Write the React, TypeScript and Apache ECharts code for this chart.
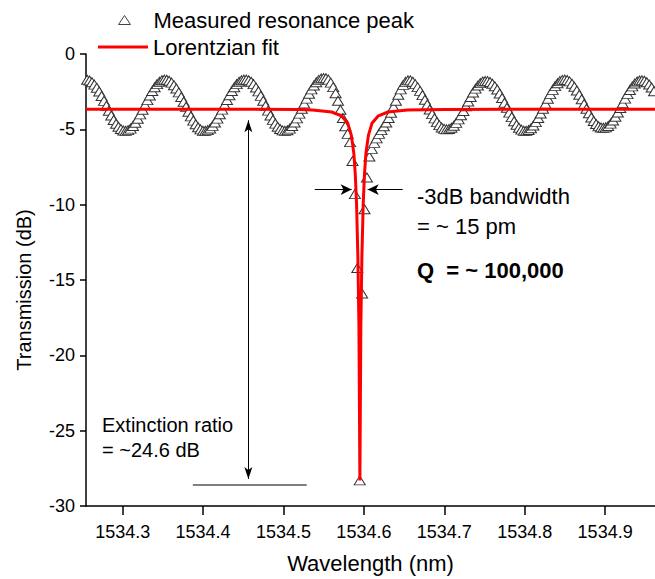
import React, { useEffect, useRef } from "react";
import * as echarts from "echarts";

// ---------- data ----------
const X_MIN = 1534.2544;
const X_MAX = 1534.962;
const X_TICKS = [1534.3, 1534.4, 1534.5, 1534.6, 1534.7, 1534.8, 1534.9];
const Y_MIN = -30;
const Y_MAX = 0;
const Y_STEP = 5;

// measured spectrum: uniform wavelength sampling of the swept source
const MEASURED_START_NM = 1534.2558;
const MEASURED_STEP_NM = 0.003;
const MEASURED_DB = [
  -1.71, -1.76, -1.87, -2.03, -2.24, -2.49, -2.79, -3.11, -3.44, -3.77, -4.08, -4.38, -4.63, -4.83, -4.98, -5.08, -5.1,
  -5.05, -4.95, -4.78, -4.56, -4.3, -4.01, -3.7, -3.38, -3.06, -2.75, -2.46, -2.21, -2.0, -1.84, -1.74, -1.7, -1.71,
  -1.78, -1.9, -2.07, -2.29, -2.55, -2.85, -3.17, -3.5, -3.83, -4.14, -4.42, -4.66, -4.86, -5.0, -5.09, -5.1,
  -5.05, -4.94, -4.77, -4.55, -4.29, -4.0, -3.69, -3.37, -3.05, -2.74, -2.46, -2.21, -2.0, -1.84, -1.74, -1.7, -1.7,
  -1.74, -1.84, -2.0, -2.22, -2.48, -2.78, -3.1, -3.43, -3.76, -4.08, -4.37, -4.62, -4.83, -4.98, -5.07, -5.1,
  -5.06, -4.95, -4.78, -4.55, -4.27, -3.96, -3.63, -3.29, -2.96, -2.64, -2.35, -2.09, -1.88, -1.72, -1.63, -1.6, -1.61,
  -1.7, -1.9, -2.2, -2.6, -3.1, -3.7, -4.25, -4.8, -5.3, -5.85, -7.1, -9.3, -14.2, -28.3,
  -15.9, -10.3, -8.2, -6.8, -6.3, -5.9, -5.6, -5.3, -5.05, -4.8, -4.55, -4.25, -3.9, -3.5, -3.1, -2.7, -2.35, -2.05, -1.85, -1.75,
  -1.75, -1.84, -2.0, -2.2, -2.45, -2.73, -3.04, -3.36, -3.68, -3.99, -4.27, -4.52, -4.72, -4.88, -4.97, -5.0,
  -4.98, -4.9, -4.76, -4.57, -4.34, -4.07, -3.78, -3.47, -3.15, -2.85, -2.56, -2.3, -2.09, -1.93, -1.83, -1.8, -1.8,
  -1.86, -1.97, -2.14, -2.36, -2.62, -2.92, -3.24, -3.57, -3.89, -4.19, -4.46, -4.7, -4.89, -5.02, -5.09, -5.1,
  -5.04, -4.93, -4.75, -4.52, -4.25, -3.95, -3.63, -3.3, -2.97, -2.66, -2.38, -2.13, -1.94, -1.8, -1.72, -1.7,
  -1.73, -1.82, -1.97, -2.17, -2.42, -2.7, -3.0, -3.32, -3.63, -3.93, -4.21, -4.45, -4.65, -4.8, -4.88, -4.9,
  -4.87, -4.78, -4.62, -4.41, -4.16, -3.88, -3.58, -3.27, -2.96, -2.66, -2.39, -2.15, -1.96, -1.83, -1.76, -1.75,
  -1.78, -1.87, -2.02, -2.22, -2.47,
];

// Lorentzian fit curve
const FIT_NM = [
  1534.2544, 1534.45, 1534.52, 1534.536, 1534.56, 1534.572, 1534.58, 1534.5844, 1534.5875, 1534.5893,
  1534.5909, 1534.5925, 1534.5938, 1534.5945, 1534.595, 1534.5955, 1534.5962, 1534.5975, 1534.5991,
  1534.6007, 1534.6025, 1534.6056, 1534.61, 1534.618, 1534.63, 1534.654, 1534.7, 1534.962,
];
const FIT_DB = [
  -3.66, -3.66, -3.68, -3.72, -3.85, -4.1, -4.6, -5.4, -6.6, -8.0,
  -10.0, -13.5, -18.0, -24.0, -28.3, -24.0, -18.0, -13.5, -10.0,
  -8.0, -6.6, -5.4, -4.6, -4.1, -3.85, -3.72, -3.68, -3.66,
];

const SERIES_MEASURED = "Measured resonance peak";
const SERIES_FIT = "Lorentzian fit";

// annotation geometry in data units
const BW_LEFT_ARROW = [[1534.5389, -9.0], [1534.5848, -9.0]];
const BW_RIGHT_ARROW = [[1534.6482, -9.0], [1534.6047, -9.0]];
const ER_ARROW = [[1534.4563, -4.4], [1534.4563, -28.2]];
const ER_LINE = [[1534.3873, -28.6], [1534.5289, -28.6]];

const FONT = "'Liberation Sans', Arial, Helvetica, sans-serif";

export default function App() {
  const ref = useRef<HTMLDivElement>(null);

  useEffect(() => {
    if (!ref.current) return;
    const chart = echarts.init(ref.current, null, { renderer: "svg" });

    const measured = MEASURED_DB.map((v, i) => [MEASURED_START_NM + i * MEASURED_STEP_NM, v]);
    const fit = FIT_NM.map((x, i) => [x, FIT_DB[i]]);

    const arrowLine = (seg: number[][], startSym: string, endSym: string, size: number[], color: string, width: number) => [
      { coord: seg[0], symbol: startSym, symbolSize: size, lineStyle: { color, width, type: "solid" } },
      { coord: seg[1], symbol: endSym, symbolSize: size },
    ];

    const option: any = {
      animation: false,
      backgroundColor: "#ffffff",
      textStyle: { fontFamily: FONT },
      grid: { left: 86, top: 54, right: 0, bottom: 66, containLabel: false },
      legend: [
        {
          data: [SERIES_MEASURED],
          left: 118,
          top: 9,
          padding: 0,
          itemWidth: 12,
          itemHeight: 9,
          selectedMode: false,
          itemStyle: { color: "#ffffff", borderColor: "#444444", borderWidth: 1 },
          textStyle: { fontSize: 22, color: "#000", fontFamily: FONT, padding: [0, 0, 0, 18] },
        },
        {
          data: [{ name: SERIES_FIT, icon: "rect" }],
          left: 98,
          top: 36,
          padding: 0,
          itemWidth: 50,
          itemHeight: 3,
          selectedMode: false,
          itemStyle: { color: "#ff0000" },
          textStyle: { fontSize: 22, color: "#000", fontFamily: FONT },
        },
      ],
      xAxis: {
        type: "value",
        min: X_MIN,
        max: X_MAX,
        name: "Wavelength (nm)",
        nameLocation: "middle",
        nameGap: 46,
        nameTextStyle: { fontSize: 22, color: "#000", fontFamily: FONT },
        axisLine: { show: true, onZero: false, lineStyle: { color: "#000", width: 1.5 } },
        axisTick: { show: true, inside: false, length: 9, customValues: X_TICKS, lineStyle: { color: "#000", width: 1.5 } },
        axisLabel: {
          customValues: X_TICKS,
          fontSize: 18,
          color: "#000",
          fontFamily: FONT,
          margin: 17,
          formatter: (v: number) => v.toFixed(1),
        },
        splitLine: { show: false },
      },
      yAxis: {
        type: "value",
        min: Y_MIN,
        max: Y_MAX,
        interval: Y_STEP,
        name: "Transmission (dB)",
        nameLocation: "middle",
        nameGap: 52,
        nameRotate: 90,
        nameTextStyle: { fontSize: 20, color: "#000", fontFamily: FONT, padding: [0, 20, 0, 0] },
        axisLine: { show: true, onZero: false, lineStyle: { color: "#000", width: 1.5 } },
        axisTick: { show: true, inside: false, length: 6, lineStyle: { color: "#000", width: 1.5 } },
        axisLabel: { fontSize: 18, color: "#000", fontFamily: FONT, margin: 11 },
        splitLine: { show: false },
      },
      series: [
        {
          name: SERIES_MEASURED,
          type: "scatter",
          data: measured,
          symbol: "triangle",
          symbolSize: [11, 9],
          itemStyle: { color: "#ffffff", borderColor: "#333333", borderWidth: 1, opacity: 1 },
          z: 2,
          silent: true,
        },
        {
          name: SERIES_FIT,
          type: "line",
          data: fit,
          symbol: "none",
          smooth: false,
          color: "#ff0000",
          lineStyle: { color: "#ff0000", width: 3 },
          z: 3,
          silent: true,
          markLine: {
            silent: true,
            animation: false,
            label: { show: false },
            emphasis: { disabled: true },
            data: [
              arrowLine(BW_LEFT_ARROW, "none", "arrow", [8, 11], "#000", 1),
              arrowLine(BW_RIGHT_ARROW, "none", "arrow", [8, 11], "#000", 1),
              arrowLine(ER_ARROW, "arrow", "arrow", [6, 12], "#000", 1),
              arrowLine(ER_LINE, "none", "none", [1, 1], "#555", 1.5),
            ],
          },
        },
      ],
      graphic: [
        { type: "text", x: 417, y: 196, style: { text: "-3dB bandwidth", fontSize: 22, fontFamily: FONT, fill: "#000", verticalAlign: "middle" } },
        { type: "text", x: 417, y: 226, style: { text: "= ~ 15 pm", fontSize: 22, fontFamily: FONT, fill: "#000", verticalAlign: "middle" } },
        { type: "text", x: 417, y: 270, style: { text: "Q  = ~ 100,000", fontSize: 22, fontWeight: "bold", fontFamily: FONT, fill: "#000", verticalAlign: "middle" } },
        { type: "text", x: 102, y: 425, style: { text: "Extinction ratio", fontSize: 20, fontFamily: FONT, fill: "#000", verticalAlign: "middle" } },
        { type: "text", x: 102, y: 450, style: { text: "= ~24.6 dB", fontSize: 20, fontFamily: FONT, fill: "#000", verticalAlign: "middle" } },
      ],
    };

    chart.setOption(option);
    return () => chart.dispose();
  }, []);

  return (
    <div
      ref={ref}
      style={{ position: "absolute", left: 0, top: 0, width: 655, height: 579, background: "#fff" }}
    />
  );
}
